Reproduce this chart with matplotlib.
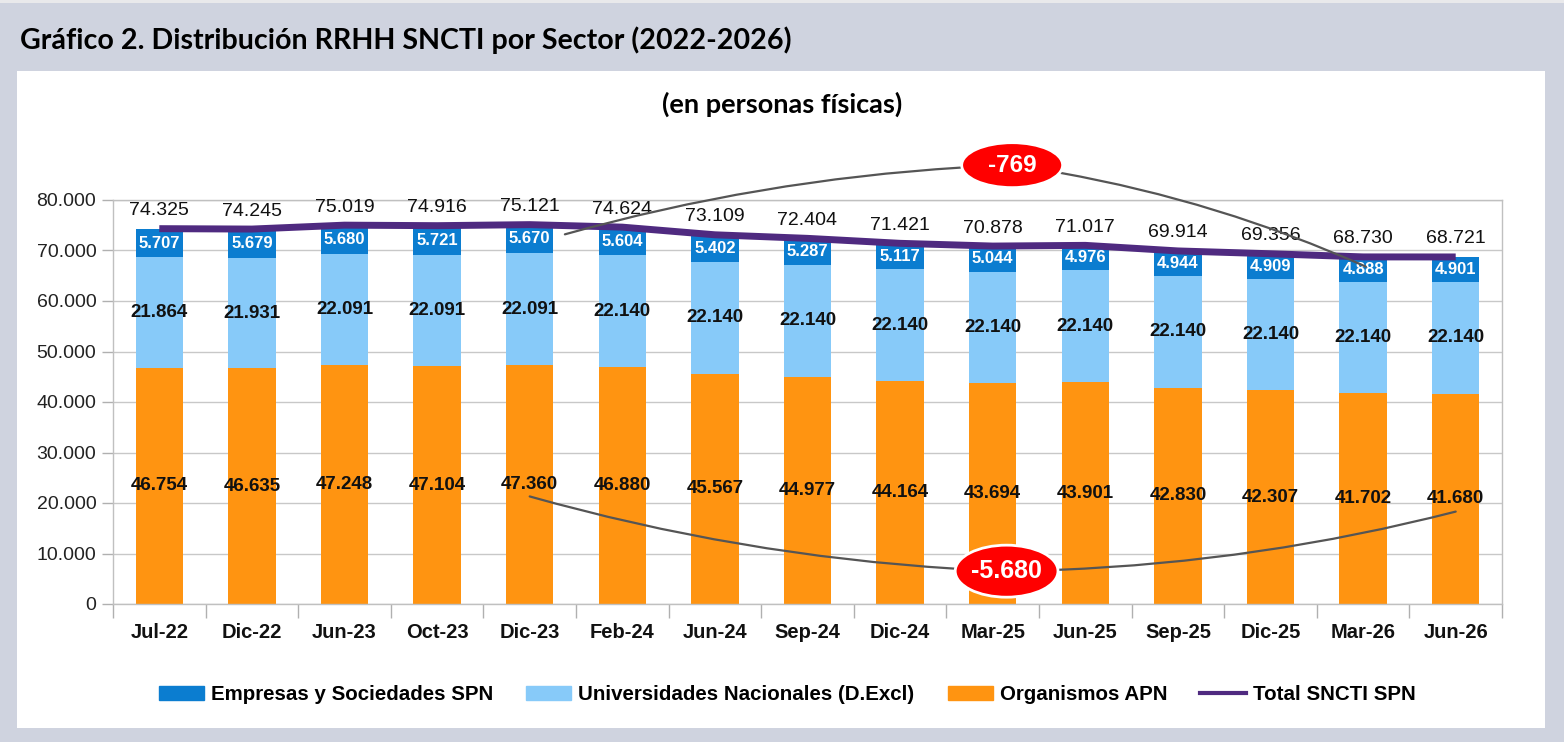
import numpy as np
import matplotlib.pyplot as plt
from matplotlib.patches import Rectangle, Patch, Ellipse
from matplotlib.lines import Line2D

# Data (en personas fisicas)
periodos = ['Jul-22', 'Dic-22', 'Jun-23', 'Oct-23', 'Dic-23', 'Feb-24', 'Jun-24', 'Sep-24',
            'Dic-24', 'Mar-25', 'Jun-25', 'Sep-25', 'Dic-25', 'Mar-26', 'Jun-26']
organismos = [46754, 46635, 47248, 47104, 47360, 46880, 45567, 44977,
              44164, 43694, 43901, 42830, 42307, 41702, 41680]
universidades = [21864, 21931, 22091, 22091, 22091, 22140, 22140, 22140,
                 22140, 22140, 22140, 22140, 22140, 22140, 22140]
empresas = [5707, 5679, 5680, 5721, 5670, 5604, 5402, 5287,
            5117, 5044, 4976, 4944, 4909, 4888, 4901]
total = [74325, 74245, 75019, 74916, 75121, 74624, 73109, 72404,
         71421, 70878, 71017, 69914, 69356, 68730, 68721]

# Variaciones Dic-23 -> Jun-26
var_empresas = '-769'
var_organismos = '-5.680'

c_org = '#FF9411'
c_uni = '#87CAF9'
c_emp = '#0B7DD0'
c_tot = '#4F2A80'
bg = '#CFD3DF'


def fmt(v):
    return f'{v:,}'.replace(',', '.')


plt.rcParams['font.family'] = 'Liberation Sans'

W, H = 1564, 742
fig = plt.figure(figsize=(W / 100, H / 100), dpi=100, facecolor=bg)
fig.patches.append(Rectangle((0, 1 - 3 / H), 1, 3 / H, transform=fig.transFigure,
                             facecolor='#E9E9EB', edgecolor='none', zorder=-2))
fig.patches.append(Rectangle((17 / W, 1 - 728 / H), (1545 - 17) / W, (728 - 71) / H,
                             transform=fig.transFigure, facecolor='white',
                             edgecolor='none', zorder=-2))

fig.text(20 / W, 1 - 40 / H, 'Gráfico 2. Distribución RRHH SNCTI por Sector (2022-2026)',
         family='Lato', weight='bold', fontsize=20.6, va='center', ha='left')
fig.text(782 / W, 1 - 104 / H, '(en personas físicas)', family='Lato', weight='bold',
         fontsize=19.5, va='center', ha='center')

ax = fig.add_axes([113 / W, 1 - 604 / H, (1502 - 113) / W, (604 - 200) / H])
ax.set_facecolor('none')

x = np.arange(len(periodos))
org = np.array(organismos)
uni = np.array(universidades)
emp = np.array(empresas)
tot = np.array(total)
w = 0.51

ax.bar(x, org, w, color=c_org, zorder=2)
ax.bar(x, uni, w, bottom=org, color=c_uni, zorder=2)
ax.bar(x, emp, w, bottom=org + uni, color=c_emp, zorder=2)
ax.plot(x, tot, color=c_tot, lw=5, zorder=3, solid_capstyle='butt')

for i in x:
    ax.text(i, org[i] / 2, fmt(org[i]), ha='center', va='center', fontsize=13.5,
            weight='bold', color='#111111', zorder=4)
    ax.text(i, org[i] + uni[i] / 2, fmt(uni[i]), ha='center', va='center', fontsize=13.5,
            weight='bold', color='#111111', zorder=4)
    ax.text(i, org[i] + uni[i] + emp[i] / 2, fmt(emp[i]), ha='center', va='center',
            fontsize=12, weight='bold', color='white', zorder=4)
    ax.annotate(fmt(tot[i]), (i, tot[i]), xytext=(0, 13), textcoords='offset points',
                ha='center', va='center', fontsize=14, color='#111111', zorder=4,
                annotation_clip=False)

ax.set_xlim(-0.5, len(periodos) - 0.5)
ax.set_ylim(0, 80000)
ax.set_yticks(np.arange(0, 80001, 10000))
ax.set_yticklabels([fmt(v) for v in range(0, 80001, 10000)], fontsize=14, color='#222222')
ax.set_xticks(x)
ax.set_xticklabels(periodos, fontsize=14.5, weight='bold', color='#111111')
ax.set_xticks(np.arange(-0.5, len(periodos), 1), minor=True)
ax.tick_params(axis='x', which='major', length=0, pad=14)
ax.tick_params(axis='x', which='minor', length=10, color='#B0B0B0', width=1)
ax.tick_params(axis='y', length=8, color='#B0B0B0', width=1, pad=4)
ax.grid(axis='y', color='#C8C8C8', lw=1, zorder=0)
for s in ax.spines.values():
    s.set_color('#C0C0C0')
    s.set_linewidth(1)

# arcs with variation labels (ellipse centre, size, arc ends, curvature)
arc_kw = dict(arrowstyle='-', color='#555555', lw=1.6, shrinkA=0, shrinkB=0)
for label, center, size, fs, left, right, rl, rr in [
        (var_empresas, (9.21, 86900), (1.09, 8900), 17.5,
         (4.38, 73200), (13.03, 66800), 0.06, -0.07),
        (var_organismos, (9.15, 6500), (1.11, 10300), 18,
         (4.0, 21300), (14.0, 18300), -0.06, 0.06)]:
    ell = Ellipse(center, size[0], size[1], facecolor='#FF0000', edgecolor='white',
                  lw=2, zorder=6, clip_on=False)
    ax.add_patch(ell)
    ax.text(center[0], center[1], label, ha='center', va='center', fontsize=fs,
            weight='bold', color='white', zorder=7, clip_on=False)
    for pt, rad in [(left, rl), (right, rr)]:
        ax.annotate('', xy=pt, xytext=center, annotation_clip=False, zorder=5,
                    arrowprops=dict(connectionstyle=f'arc3,rad={rad}', patchA=ell,
                                    **arc_kw))

handles = [Patch(color=c_emp), Patch(color=c_uni), Patch(color=c_org),
           Line2D([], [], color=c_tot, lw=3)]
labels = ['Empresas y Sociedades SPN', 'Universidades Nacionales (D.Excl)',
          'Organismos APN', 'Total SNCTI SPN']
fig.legend(handles, labels, loc='center', bbox_to_anchor=(787 / W, 1 - 695 / H), ncol=4,
           frameon=False, prop=dict(family='Liberation Sans', weight='bold', size=14.8),
           handlelength=2.2, handleheight=0.65, handletextpad=0.35, columnspacing=1.6)

fig.savefig('out.png', dpi=100, facecolor=bg)
